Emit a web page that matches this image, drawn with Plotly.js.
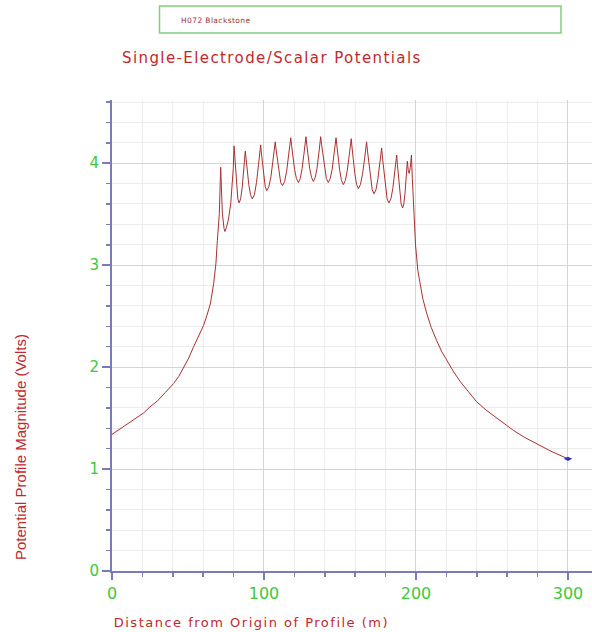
<!DOCTYPE html>
<html>
<head>
<meta charset="utf-8">
<script src="https://cdn.plot.ly/plotly-3.0.1.min.js"></script>
<style>
html,body{margin:0;padding:0;background:#fff;}
#chart{width:592px;height:632px;}
#chart .gtitle{letter-spacing:1.4px;}
#chart .annotation[data-index="1"] text{letter-spacing:1.5px;}
#chart .annotation[data-index="0"] text{letter-spacing:0.4px;}
</style>
</head>
<body>
<div id="chart"></div>
<script>
// ---- data ----
const chartTitle = "Single-Electrode/Scalar Potentials";
const seriesName = "H072 Blackstone";
const xTitle = "Distance from Origin of Profile (m)";
const yTitle = "Potential Profile Magnitude (Volts)";

const distance = [
  0, 5, 10, 15, 20.8, 25, 30, 35, 40.6, 44, 47.1, 50.5, 53.7, 57, 60.3, 62.5, 64.7, 66.9, 68.4, 69.3, 70.6, 71.5,
  72.0, 72.6, 73.7, 74.3, 75.3, 76.5, 78.1, 79.2, 79.8, 80.3,
  80.70, 81.13, 81.95, 82.78, 83.6, 84.63, 85.65, 86.68, 87.21, 87.7,
  88.25, 88.85, 90.0, 91.15, 92.3, 93.68, 95.05, 96.43, 97.14, 97.8,
  98.28, 98.8, 99.8, 100.8, 101.8, 103.2, 104.6, 106.0, 106.73, 107.4,
  107.98, 108.6, 109.8, 111.0, 112.2, 113.55, 114.9, 116.25, 116.95, 117.6,
  118.2, 118.85, 120.1, 121.35, 122.6, 123.85, 125.1, 126.35, 127.0, 127.6,
  128.19, 128.83, 130.05, 131.28, 132.5, 133.7, 134.9, 136.1, 136.72, 137.3,
  137.9, 138.55, 139.8, 141.05, 142.3, 143.58, 144.85, 146.13, 146.79, 147.4,
  147.98, 148.6, 149.8, 151.0, 152.2, 153.5, 154.8, 156.1, 156.78, 157.4,
  157.96, 158.58, 159.75, 160.93, 162.1, 163.45, 164.8, 166.15, 166.85, 167.5,
  168.09, 168.73, 169.95, 171.18, 172.4, 173.65, 174.9, 176.15, 176.8, 177.4,
  177.98, 178.6, 179.8, 181.0, 182.2, 183.48, 184.75, 186.03, 186.69, 187.3,
  187.77, 188.28, 189.25, 190.23, 191.2, 191.98, 192.75, 193.53, 193.93, 194.3,
  194.9, 195.5, 196.3, 197.0, 197.6, 198.7, 199.7, 201.2, 202.6, 204.5,
  207, 210, 213.6, 217, 220.2, 224.5, 229, 234.5, 239.9, 246, 253.1, 258.5, 264, 271.5, 279.4, 289.5, 300
];
const potential = [
  1.34, 1.39, 1.44, 1.49, 1.55, 1.61, 1.67, 1.75, 1.84, 1.91, 2.0, 2.09, 2.2, 2.30, 2.41, 2.51, 2.62, 2.82, 3.02, 3.24, 3.5, 3.96,
  3.72, 3.51, 3.36, 3.33, 3.37, 3.44, 3.60, 3.80, 3.95, 4.17,
  4.07, 3.97, 3.78, 3.65, 3.61, 3.65, 3.76, 3.94, 4.03, 4.12,
  4.04, 3.95, 3.79, 3.69, 3.65, 3.69, 3.81, 3.99, 4.08, 4.18,
  4.10, 4.02, 3.87, 3.77, 3.73, 3.77, 3.87, 4.04, 4.12, 4.21,
  4.13, 4.06, 3.91, 3.81, 3.78, 3.82, 3.92, 4.08, 4.17, 4.25,
  4.17, 4.09, 3.94, 3.85, 3.81, 3.85, 3.95, 4.10, 4.18, 4.26,
  4.18, 4.10, 3.95, 3.86, 3.82, 3.86, 3.95, 4.10, 4.18, 4.26,
  4.18, 4.10, 3.95, 3.85, 3.81, 3.85, 3.94, 4.09, 4.17, 4.25,
  4.17, 4.08, 3.93, 3.83, 3.79, 3.83, 3.93, 4.08, 4.16, 4.24,
  4.15, 4.06, 3.90, 3.79, 3.75, 3.79, 3.89, 4.04, 4.13, 4.21,
  4.12, 4.03, 3.85, 3.74, 3.70, 3.74, 3.84, 3.99, 4.07, 4.15,
  4.05, 3.96, 3.77, 3.65, 3.61, 3.65, 3.75, 3.91, 4.00, 4.08,
  3.99, 3.89, 3.72, 3.60, 3.56, 3.60, 3.70, 3.85, 3.94, 4.02,
  3.93, 3.90, 3.96, 4.08, 3.85, 3.54, 3.20, 2.95, 2.82, 2.67,
  2.53, 2.39, 2.26, 2.15, 2.07, 1.96, 1.86, 1.76, 1.66, 1.58, 1.50, 1.44, 1.38, 1.31, 1.25, 1.17, 1.10
];
const endDistance = [300];
const endPotential = [1.10];

// ---- styling ----
const green = "#3cc83c";
const red = "#c0282d";
const axisCol = "#7b7bb8";

const traces = [
  {x: distance, y: potential, type: "scatter", mode: "lines", name: seriesName,
   line: {color: "#a83030", width: 1}, showlegend: false},
  {x: endDistance, y: endPotential, type: "scatter", mode: "markers",
   marker: {symbol: "diamond-wide", size: 6, color: "#3030c8"}, showlegend: false}
];

const layout = {
  width: 592, height: 632,
  margin: {l: 112, r: 0, t: 100, b: 61, pad: 0},
  paper_bgcolor: "#fff", plot_bgcolor: "#fff",
  font: {family: "DejaVu Sans, sans-serif"},
  title: {text: chartTitle, xref: "container", yref: "container", x: 122/592, xanchor: "left",
          y: 1 - 58/632, yanchor: "middle", font: {size: 15, color: red, family: "DejaVu Sans"}},
  xaxis: {
    range: [0, 315.8], dtick: 100, tick0: 0,
    showline: true, linecolor: axisCol, linewidth: 2, mirror: false,
    ticks: "outside", ticklen: 7, tickcolor: axisCol, tickwidth: 1.5,
    tickfont: {size: 16, color: green, family: "DejaVu Sans"},
    showgrid: true, gridcolor: "#d4d4d4", gridwidth: 1, zeroline: false,
    minor: {dtick: 20, ticks: "outside", ticklen: 4, tickcolor: axisCol, tickwidth: 1.5,
            showgrid: true, gridcolor: "#ececec", gridwidth: 1}
  },
  yaxis: {
    range: [0, 4.62], dtick: 1, tick0: 0,
    showline: true, linecolor: axisCol, linewidth: 2, mirror: false,
    ticks: "outside", ticklen: 8, tickcolor: axisCol, tickwidth: 1.5,
    tickfont: {size: 15, color: green, family: "DejaVu Sans"},
    showgrid: true, gridcolor: "#d4d4d4", gridwidth: 1, zeroline: false,
    minor: {dtick: 0.2, ticks: "outside", ticklen: 4, tickcolor: axisCol, tickwidth: 1.5,
            showgrid: true, gridcolor: "#ececec", gridwidth: 1}
  },
  shapes: [
    {type: "rect", xref: "paper", yref: "paper",
     x0: (159.5-112)/480, x1: (561-112)/480, y0: (571-33)/471, y1: (571-6)/471,
     line: {color: "#80d080", width: 1.5}, fillcolor: "rgba(0,0,0,0)"}
  ],
  annotations: [
    {text: seriesName, xref: "paper", yref: "paper", x: (182-112)/480, y: (571-20)/471,
     xanchor: "left", yanchor: "middle", showarrow: false,
     font: {size: 7.5, color: "#a03030", family: "DejaVu Sans"}},
    {text: xTitle, xref: "paper", yref: "paper", x: (251.5-112)/480, y: (571-622)/471,
     xanchor: "center", yanchor: "middle", showarrow: false,
     font: {size: 13, color: red, family: "DejaVu Sans"}},
    {text: yTitle, xref: "paper", yref: "paper", x: (20-112)/480, y: (571-447)/471,
     xanchor: "center", yanchor: "middle", textangle: -90, showarrow: false,
     font: {size: 15, color: red, family: "Liberation Sans"}}
  ]
};

Plotly.newPlot("chart", traces, layout, {displayModeBar: false, staticPlot: true});
</script>
</body>
</html>
